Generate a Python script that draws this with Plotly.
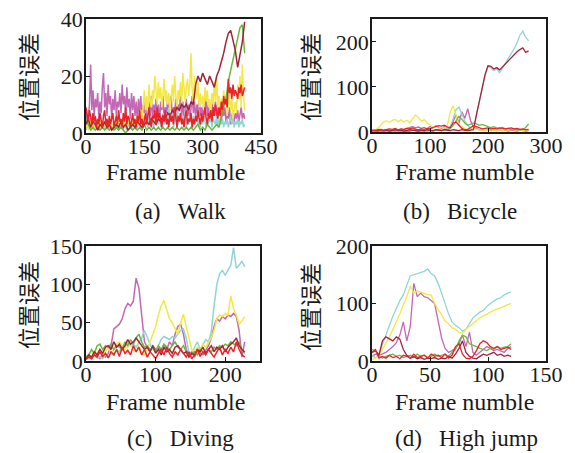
import plotly.graph_objects as go

# ---------------- data ----------------
series_names = ["magenta", "cyan", "yellow", "green", "darkred", "red"]
series_colors = {"magenta": "#c467b5", "cyan": "#8fd5d3", "yellow": "#f3e843",
                 "green": "#6cb83f", "darkred": "#a4223a", "red": "#ec2228"}

# (a) Walk
walk_frames_fine = list(range(0, 409, 3))
walk_frames = list(range(0, 409, 6))
walk_magenta = [8,3,6,10,24,8,15,6,12,9, 14,5,11,7,16,21,9,14,6,17,
                10,13,5,12,8,15,6,11,9,14, 7,17,10,13,6,16,9,12,5,14,
                8,13,6,11,4,12,7,13,5,10, 7,12,4,9,11,6,13,5,10,7,
                12,6,10,4,11,8,13,5,9,7, 12,6,10,13,5,9,7,12,4,10,
                8,13,6,11,5,9,12,6,10,4, 9,13,7,11,5,10,8,12,6,9,
                5,11,7,13,6,10,4,9,12,6, 8,11,5,9,7,10,4,8,6,9,
                4,7,5,9,3,6,8,4,7,5, 8,4,6,9,5,7,5]
walk_yellow = [2,4,1,3,5,2,4,1,3,2, 4,2,5,1,3,2,4,3,1,3,
               2,5,3,1,4,2,3,5,2,3, 4,1,3,5,2,4,3,6,2,4,
               3,5,2,4,6,3,5,8,4,10, 15,8,13,6,17,11,9,15,12,20,
               14,10,18,12,16,9,14,19,11,15, 10,14,8,13,17,11,20,13,9,15,
               12,18,10,21,14,11,16,19,13,17, 28,15,11,20,16,12,18,9,14,10,
               13,8,16,11,15,9,12,7,14,10, 18,11,20,9,13,7,12,8,15,10,
               13,6,11,14,8,12,5,9,11,7, 17,12,20,9,24,13,8]
walk_red = [9,6,4,8,5,3,7,4,6,2, 5,3,7,4,2,6,8,3,5,2,
            6,3,5,7,2,4,6,3,8,4, 5,2,7,4,9,3,6,5,2,4,
            7,3,5,2,6,4,8,3,5,2, 4,7,3,6,9,4,2,6,5,8,
            3,9,5,7,4,2,6,4,8,3, 5,2,7,4,6,3,9,5,2,6,
            4,7,3,5,2,6,8,3,5,4, 7,2,5,3,6,4,8,5,3,7,
            4,6,9,5,3,7,5,8,4,9, 6,10,7,5,9,6,11,8,13,10,
            12,9,19,14,16,12,17,13,15,14, 12,16,14,17,13,15,16]
walk_cyan = [1,3,2,4,1,2,3,1,4,2, 3,1,2,4,2,3,1,3,2,4,
             2,1,3,2,4,1,3,2,1,3, 2,4,1,3,2,1,4,2,3,1,
             3,2,4,1,2,3,5,2,4,3, 6,3,5,2,7,4,3,6,2,5,
             4,8,3,6,2,5,7,3,4,6, 3,9,5,4,7,2,6,4,8,3,
             5,7,3,6,4,8,2,5,3,6, 4,2,6,3,5,7,3,4,2,5,
             3,6,4,2,5,3,7,4,2,5, 4,3,6,2,5,4,3,5,2,4,
             3,5,2,4,6,3,5,2,4,3, 5,2,4,3,5,2,3]
walk_darkred = [3,5,2,4,3,1,3,2,4,2, 3,1,2,3,2,4,2,3,1,2, 3,2,4,3,2,3,4,3,5,4,
                3,5,4,6,5,7,6,8,7,9, 8,10,9,10,8,11,10,17,20,18, 21,19,17,20,18,16,20,22,25,28,
                32,35,36,32,29,23,27,32,39]
walk_green = [5,3,1,2,1,2,1,2,1,2, 1,2,1,2,1,2,1,0,1,2, 1,2,1,2,1,3,1,2,1,2,
              1,2,1,2,1,2,1,2,1,2, 1,2,1,2,1,2,1,2,3,1, 2,1,3,2,1,2,3,2,6,9,
              12,18,22,26,30,34,37,38,28]

# (b) Bicycle
bike_frames = list(range(0, 271, 5))
bike_cyan = [2,1,2,1,2,3,2,1,2,3, 2,1,3,2,4,3,2,3,2,1, 3,2,4,3,5,4,
             8,12,30,50,55,38,25,15,8,8,
             35,65,95,125,146,142,136,140,132,142,
             152,162,172,185,198,215,224,210,203]
bike_darkred = [3,4,2,5,3,4,2,3,5,3, 4,2,3,5,4,3,2,4,3,5, 4,3,5,4,3,5,
                4,3,5,4,3,5,4,3,4,5,
                38,68,100,128,147,146,140,143,138,145,
                150,158,165,172,178,183,187,177,180]
bike_yellow = [3,4,8,15,22,25,21,26,28,23, 27,22,26,20,30,38,32,24,27,20,
               16,10,12,8,10,8,15,45,58,35, 15,12,8,6,5,8,6,4,5,3,
               4,5,3,4,5,3,5,4,6,5, 4,5,3,4,5]
bike_magenta = [2,3,2,4,3,5,4,3,5,4, 6,5,8,10,12,9,11,8,10,7,
                12,9,14,10,8,12,6,10,25,38, 20,45,30,52,25,10,8,5,4,3,
                5,3,4,3,5,3,4,2,4,3, 2,4,3,2,3]
bike_green = [2,1,3,2,1,3,2,4,2,3, 2,3,1,2,4,3,2,3,2,4,
              3,2,4,5,3,6,4,8,15,25, 35,28,20,15,18,20,18,15,17,14,
              12,10,12,9,8,10,7,8,6,7, 5,6,5,10,18]
bike_red = [4,3,5,6,4,5,7,6,8,5, 7,6,8,7,9,6,5,7,6,8,
            7,10,12,14,13,15,11,10,20,22, 15,8,5,6,10,14,12,9,7,8,
            9,7,8,7,9,8,7,8,9,7, 8,6,7,5,6]

# (c) Diving
dive_frames = list(range(0, 229, 4))
dive_magenta = [5,8,4,10,6,3,8,5,10,20, 42,45,48,55,68,75,72,78,108,95,
                60,25,18,12,20,15,18,12,22,15, 25,20,35,45,48,35,15,8,12,5,
                15,10,8,15,20,30,45,55,52,58, 55,60,58,62,58,40,5,25]
dive_cyan = [2,5,3,8,4,6,3,8,5,10, 8,15,12,20,18,25,20,22,18,25,
             30,40,30,22,15,12,20,28,32,30, 28,32,30,35,40,42,30,10,8,18,
             25,15,22,28,25,38,72,100,114,118, 112,118,125,148,121,125,130,123]
dive_yellow = [5,8,12,6,10,15,8,12,18,10, 15,22,25,20,15,18,22,15,12,20,
               10,8,15,25,35,45,60,72,79,68, 55,50,42,35,50,61,45,28,15,12,
               18,15,22,18,25,30,40,55,60,58, 62,60,85,68,60,48,52,58]
dive_darkred = [3,8,5,12,8,15,10,18,20,15, 25,18,22,15,20,28,22,25,30,25,
                20,15,18,12,20,10,15,8,18,12, 15,10,18,20,15,10,12,5,10,8,
                15,12,18,10,15,20,12,18,15,20, 12,18,22,25,30,20,15,12]
dive_green = [5,8,15,10,20,22,15,20,18,22, 15,20,18,15,25,20,28,22,30,35,
              25,18,20,15,18,12,20,15,22,18, 15,20,25,18,15,20,12,8,10,12,
              8,15,12,10,15,12,18,15,20,18, 22,20,25,22,20,25,15,10]
dive_red = [2,5,3,8,5,12,6,10,4,12, 8,15,6,18,10,14,8,20,12,18,
            8,15,5,12,8,3,10,15,8,18, 10,5,12,8,15,10,5,12,3,8,
            15,6,12,8,15,10,5,12,18,8, 15,10,18,12,25,15,8,5]

# (d) High jump
jump_frames = list(range(0, 121, 3))
jump_cyan = [10,5,12,30,45,62,78,92,105,115, 130,148,150,152,155,156,160,152,148,135,
             118,98,82,68,62,58,52,55,65,75, 80,85,88,95,100,104,108,110,115,118, 120]
jump_yellow = [3,5,10,20,32,42,55,68,82,98, 112,130,118,122,120,118,115,115,100,90,
               80,70,65,58,55,50,48,55,60,65, 70,75,78,82,85,88,90,92,95,98, 100]
jump_magenta = [8,12,10,12,15,20,25,32,45,68, 35,60,135,112,118,112,110,105,100,70,
                40,22,15,18,22,30,45,25,50,15, 10,15,20,25,22,18,20,18,15,22, 25]
jump_darkred = [15,18,10,35,42,38,35,42,38,20, 10,5,8,4,6,3,5,4,6,3,
                5,4,8,5,12,22,35,15,8,5, 4,8,12,10,12,15,10,12,8,10, 8]
jump_green = [20,18,8,5,8,10,12,8,10,6, 8,10,6,12,8,10,6,8,12,8,
              10,12,8,15,20,35,45,42,30,28, 25,22,20,18,22,20,25,22,24,25, 30]
jump_red = [15,20,5,8,5,10,6,8,4,10, 8,5,12,6,8,10,5,12,8,10,
            6,12,5,10,25,30,12,5,4,8, 18,30,35,32,25,22,25,20,22,24, 20]

x_ticks = {"a": [0, 150, 300, 450], "b": [0, 100, 200, 300], "c": [0, 100, 200], "d": [0, 50, 100, 150]}
y_ticks = {"a": [0, 20, 40], "b": [0, 100, 200], "c": [0, 50, 100, 150], "d": [0, 100, 200]}
x_ranges = {"a": [0, 450], "b": [0, 300], "c": [0, 250], "d": [0, 150]}
y_ranges = {"a": [0, 40], "b": [0, 251], "c": [0, 150], "d": [0, 200]}
captions = {"a": "(a)\u00a0\u00a0\u00a0Walk", "b": "(b)\u00a0\u00a0\u00a0Bicycle",
            "c": "(c)\u00a0\u00a0\u00a0Diving", "d": "(d)\u00a0\u00a0\u00a0High\u00a0jump"}
y_title = "位置误差"
x_title = "Frame numble"

panels = {
    "a": {"magenta": (walk_frames_fine, walk_magenta), "cyan": (walk_frames_fine, walk_cyan),
          "yellow": (walk_frames_fine, walk_yellow), "green": (walk_frames, walk_green),
          "darkred": (walk_frames, walk_darkred), "red": (walk_frames_fine, walk_red)},
    "b": {"magenta": (bike_frames, bike_magenta), "cyan": (bike_frames, bike_cyan),
          "yellow": (bike_frames, bike_yellow), "green": (bike_frames, bike_green),
          "darkred": (bike_frames, bike_darkred), "red": (bike_frames, bike_red)},
    "c": {"magenta": (dive_frames, dive_magenta), "cyan": (dive_frames, dive_cyan),
          "yellow": (dive_frames, dive_yellow), "green": (dive_frames, dive_green),
          "darkred": (dive_frames, dive_darkred), "red": (dive_frames, dive_red)},
    "d": {"magenta": (jump_frames, jump_magenta), "cyan": (jump_frames, jump_cyan),
          "yellow": (jump_frames, jump_yellow), "green": (jump_frames, jump_green),
          "darkred": (jump_frames, jump_darkred), "red": (jump_frames, jump_red)},
}

# ---------------- layout ----------------
W, H = 575, 453
def px(x):
    return x / W
def py(y):
    return 1 - y / H

boxes = {  # left, right, top, bottom in pixels
    "a": (86, 261, 19, 133),
    "b": (372, 546, 19, 132),
    "c": (86, 260, 246, 361),
    "d": (372, 546, 246, 361),
}
ytitle_pos = {"a": (27, 77), "b": (309, 77), "c": (27, 305), "d": (309, 307)}
xtitle_pos = {"a": (175, 172), "b": (464, 172), "c": (175, 402), "d": (464, 402)}
caption_pos = {"a": (180, 212), "b": (460, 212), "c": (180, 438), "d": (466, 438)}
line_w = {"a": 1.5, "b": 1.3, "c": 1.5, "d": 1.3}

serif = "Liberation Serif, Times New Roman, serif"
fig = go.Figure()
layout = dict(width=W, height=H, margin=dict(l=0, r=0, t=0, b=0, autoexpand=False),
              paper_bgcolor="white", plot_bgcolor="white", showlegend=False,
              font=dict(family=serif, size=22, color="#1a1a1a"))
annotations = []
for i, key in enumerate(["a", "b", "c", "d"]):
    n = "" if i == 0 else str(i + 1)
    data = panels[key]
    for name in series_names:
        frames, vals = data[name]
        fig.add_trace(go.Scatter(x=frames, y=vals, mode="lines",
                                 line=dict(color=series_colors[name], width=line_w[key]),
                                 xaxis="x" + n, yaxis="y" + n, hoverinfo="skip"))
    l, r, t, b = boxes[key]
    axis_common = dict(showline=True, mirror=True, linecolor="#1a1a1a", linewidth=1.6,
                       ticks="inside", ticklen=4, tickwidth=1.4, tickcolor="#1a1a1a",
                       showgrid=False, zeroline=False, automargin=False,
                       tickfont=dict(family=serif, size=22, color="#1a1a1a"))
    layout["xaxis" + n] = dict(domain=[px(l), px(r)], range=x_ranges[key], tickvals=x_ticks[key],
                               anchor="y" + n, ticklabelstandoff=-7, **axis_common)
    layout["yaxis" + n] = dict(domain=[py(b), py(t)], range=y_ranges[key], tickvals=y_ticks[key],
                               anchor="x" + n, ticklabelstandoff=-3, **axis_common)
    yx, yy = ytitle_pos[key]
    annotations.append(dict(text=y_title, x=px(yx), y=py(yy), xref="paper", yref="paper",
                            showarrow=False, textangle=-90, xanchor="center", yanchor="middle",
                            font=dict(family="Noto Sans CJK SC", size=22, color="#1a1a1a")))
    xx, xy = xtitle_pos[key]
    annotations.append(dict(text=x_title, x=px(xx), y=py(xy), xref="paper", yref="paper",
                            showarrow=False, xanchor="center", yanchor="middle",
                            font=dict(family=serif, size=24, color="#1a1a1a")))
    cx, cy = caption_pos[key]
    annotations.append(dict(text=captions[key], x=px(cx), y=py(cy), xref="paper", yref="paper",
                            showarrow=False, xanchor="center", yanchor="middle",
                            font=dict(family=serif, size=23, color="#1a1a1a")))
layout["annotations"] = annotations
fig.update_layout(**layout)
fig.write_html("out.html", config={"displayModeBar": False},
               post_script="document.body.style.margin='0';document.body.style.overflow='hidden';")
